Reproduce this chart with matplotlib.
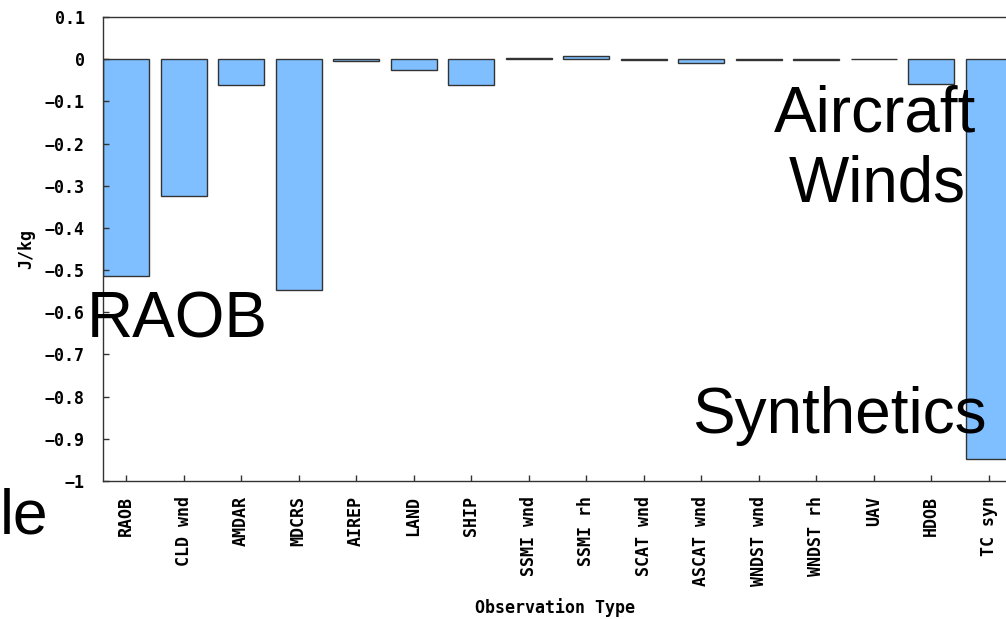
import matplotlib.pyplot as plt
from matplotlib.ticker import FuncFormatter

# Observation types and their impact values (J/kg)
obs_types = ["RAOB", "CLD wnd", "AMDAR", "MDCRS", "AIREP", "LAND", "SHIP",
             "SSMI wnd", "SSMI rh", "SCAT wnd", "ASCAT wnd", "WNDST wnd",
             "WNDST rh", "UAV", "HDOB", "TC syn"]
impact = [-0.514, -0.325, -0.062, -0.548, -0.004, -0.025, -0.062,
          0.003, 0.008, -0.003, -0.008, -0.001,
          -0.002, -0.0005, -0.058, -0.948]
y_ticks = [0.1, 0, -0.1, -0.2, -0.3, -0.4, -0.5, -0.6, -0.7, -0.8, -0.9, -1]

W, H = 1006, 619
fig = plt.figure(figsize=(W / 100, H / 100), dpi=100)
ax = fig.add_axes([103 / W, (H - 481) / H, 1 - 103 / W, 464 / H])

x = list(range(len(obs_types)))
ax.bar(x, impact, width=0.8, color="#80bfff", edgecolor="#333333", linewidth=1)

ax.set_xlim(-0.4, 15.3)
ax.set_ylim(-1, 0.1)
ax.set_xticks(x)
ax.set_xticklabels(obs_types, rotation=90, va="top", ha="center")
ax.set_yticks(y_ticks)
ax.yaxis.set_major_formatter(FuncFormatter(lambda v, p: ("%g" % round(v, 2)).replace("-", "\u2212")))

mono = "DejaVu Sans Mono"
for lab in ax.get_xticklabels() + ax.get_yticklabels():
    lab.set_fontfamily(mono)
    lab.set_fontsize(12)
    lab.set_fontweight("bold")
ax.tick_params(axis="both", direction="in", length=4, width=1, color="#333333")
ax.tick_params(axis="x", pad=11)
ax.tick_params(axis="y", pad=13)
ax.spines["right"].set_visible(False)
for s in ["left", "top", "bottom"]:
    ax.spines[s].set_color("#333333")
    ax.spines[s].set_linewidth(1)

ax.set_ylabel("J/kg", fontfamily=mono, fontsize=12, fontweight="bold")
ax.yaxis.set_label_coords(-68 / 903, 0.5)
ax.set_xlabel("Observation Type", fontfamily=mono, fontsize=12, fontweight="bold")
ax.xaxis.set_label_coords((555 - 103) / 903, -(608 - 481) / 464)
ax.xaxis.label.set_va("center")

# big overlay labels
big = dict(fontfamily="Liberation Sans", fontsize=46, color="black", va="baseline")
fig.text(87 / W, (H - 338) / H, "RAOB", ha="left", **big)
fig.text(875 / W, (H - 132) / H, "Aircraft", ha="center", **big)
fig.text(877 / W, (H - 202) / H, "Winds", ha="center", **big)
fig.text(692 / W, (H - 433) / H, "Synthetics", ha="left", **big)
fig.text(0, (H - 533) / H, "le", ha="left", fontfamily="Liberation Sans",
         fontsize=45, color="black", va="baseline")

fig.savefig("out.png", dpi=100)
